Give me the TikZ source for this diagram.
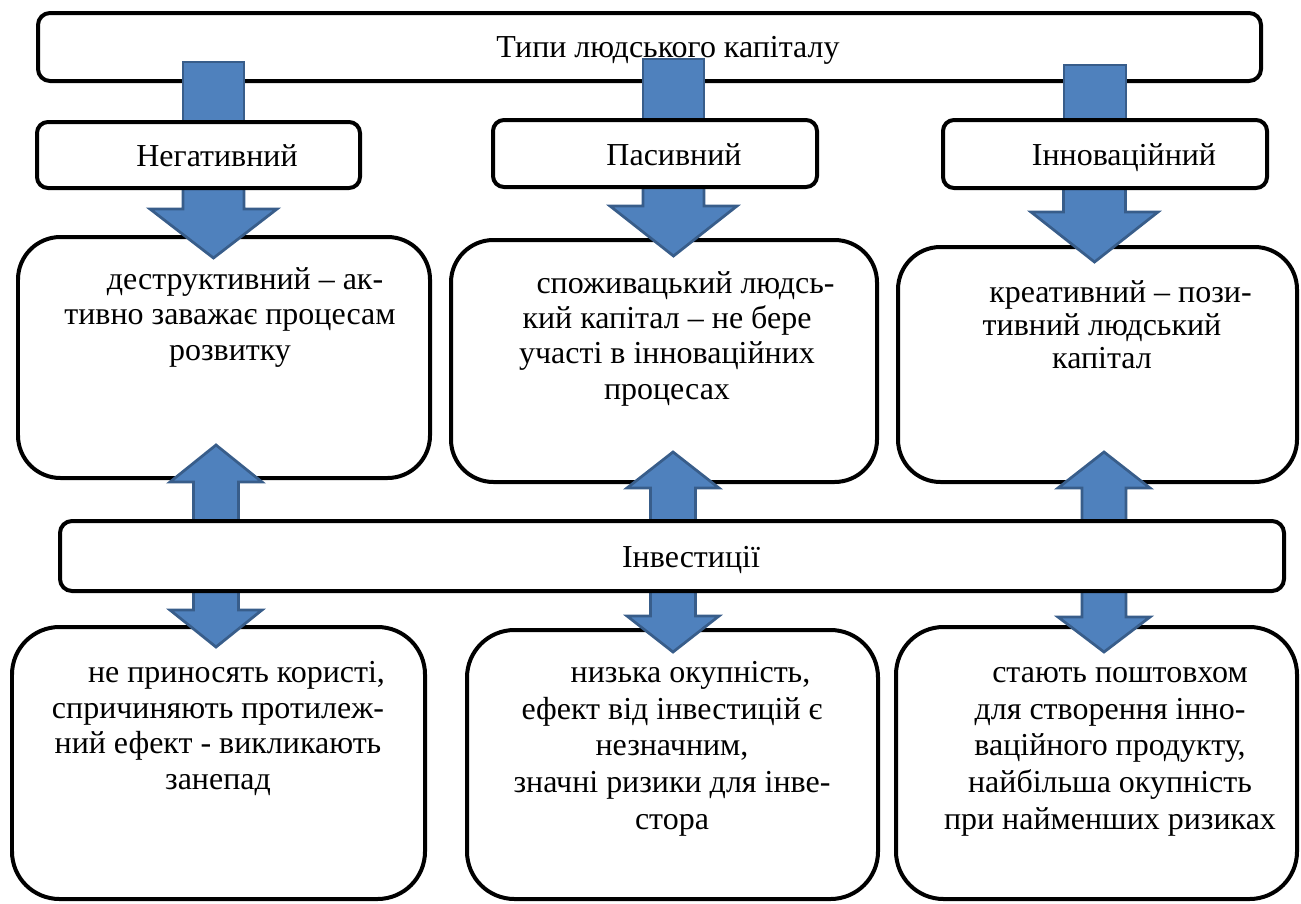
\documentclass[tikz,border=0pt]{standalone}
\usepackage{fontspec}
\setmainfont{Liberation Serif}
\definecolor{arrfill}{HTML}{4F81BD}
\definecolor{arrline}{HTML}{385D8A}
\newcommand\dnarr[6]{% xc, shafthalf, headhalf, ytop, ybase, ytip
  \draw[blk] (#1-#2,#4) -- (#1+#2,#4) -- (#1+#2,#5) -- (#1+#3,#5) -- (#1,#6) -- (#1-#3,#5) -- (#1-#2,#5) -- cycle;}
\newcommand\udarr[7]{% xc, shafthalf, headhalf, ytip1, ybase1, ybase2, ytip2
  \draw[blk] (#1,#4) -- (#1+#3,#5) -- (#1+#2,#5) -- (#1+#2,#6) -- (#1+#3,#6) -- (#1,#7) -- (#1-#3,#6) -- (#1-#2,#6) -- (#1-#2,#5) -- (#1-#3,#5) -- cycle;}
\newcommand\para[3][0.74cm]{\parbox[t]{12cm}{\setlength{\baselineskip}{#2}\centering\hspace*{#1}#3}}
\tikzset{
  frame/.style={draw=black, line width=0.08cm, fill=white},
  blk/.style={draw=arrline, line width=0.055cm, fill=arrfill, line join=miter},
  txt/.style={inner sep=0pt, anchor=base, font=\fontsize{18.2}{20.5}\selectfont},
}
\begin{document}
\begin{tikzpicture}[x=0.02cm,y=-0.02cm]
\useasboundingbox (0,0) rectangle (1301,903);
% top title box
\draw[frame, rounded corners=0.24cm] (38,13) rectangle (1261,81);
% second row boxes
\draw[frame, rounded corners=0.85cm] (18,237) rectangle (430,478);
\draw[frame, rounded corners=0.85cm] (451,240) rectangle (877,482);
\draw[frame, rounded corners=0.85cm] (898,247) rectangle (1297,482);
% bottom boxes
\draw[frame, rounded corners=0.95cm] (12,627) rectangle (425,899);
\draw[frame, rounded corners=0.95cm] (467,630) rectangle (878,899);
\draw[frame, rounded corners=0.95cm] (896,627) rectangle (1297,899);
% arrows from title to categories
\dnarr{213.5}{30.5}{30.5}{62}{150}{150}
\dnarr{673.5}{30.5}{30.5}{59}{150}{150}
\dnarr{1095}{31}{31}{65}{150}{150}
% arrows from categories to descriptions
\dnarr{213.5}{30.5}{63.5}{170}{209}{258}
\dnarr{673.5}{30.5}{63.5}{170}{206}{256}
\dnarr{1094.5}{31}{63.5}{170}{212}{262}
% double arrows through investments
\udarr{216}{22.5}{46}{445}{482}{610}{647}
\udarr{673}{22.5}{46}{452}{488}{616}{652}
\udarr{1104}{22}{46}{452}{488}{617}{652}
% category boxes
\draw[frame, rounded corners=0.22cm] (37,122) rectangle (360,188);
\draw[frame, rounded corners=0.22cm] (493,120) rectangle (817,187);
\draw[frame, rounded corners=0.22cm] (943,120) rectangle (1267,188);
% investments box
\draw[frame, rounded corners=0.24cm] (60,521) rectangle (1284,591);
% texts
\node[txt] (title) at (668,57) {Типи людського капіталу};
\node[txt] (neg) at (217,166) {Негативний};
\node[txt] (pas) at (674,165) {Пасивний};
\node[txt] (inn) at (1124,165) {Інноваційний};
\node[txt] (inv) at (691,567) {Інвестиції};
\node[txt] (d1) at (230,289) {\para[0.6cm]{0.72cm}{деструктивний – ак-\\ тивно заважає процесам\\ розвитку}};
\node[txt] (d2) at (667,293) {\para{0.71cm}{споживацький людсь-\\ кий капітал – не бере\\ участі в інноваційних\\ процесах}};
\node[txt] (d3) at (1102,302) {\para{0.67cm}{креативний – пози-\\ тивний людський\\ капітал}};
\node[txt] (e1) at (218,682) {\para{0.72cm}{не приносять користі,\\ спричиняють протилеж-\\ ний ефект - викликають\\ занепад}};
\node[txt] (e2) at (672,682) {\para{0.74cm}{низька окупність,\\ ефект від інвестицій є\\ незначним,\\ значні ризики для інве-\\ стора}};
\node[txt] (e3) at (1110,682) {\para[0.4cm]{0.74cm}{стають поштовхом\\ для створення інно-\\ ваційного продукту,\\ найбільша окупність\\ при найменших ризиках}};
\end{tikzpicture}
\end{document}
